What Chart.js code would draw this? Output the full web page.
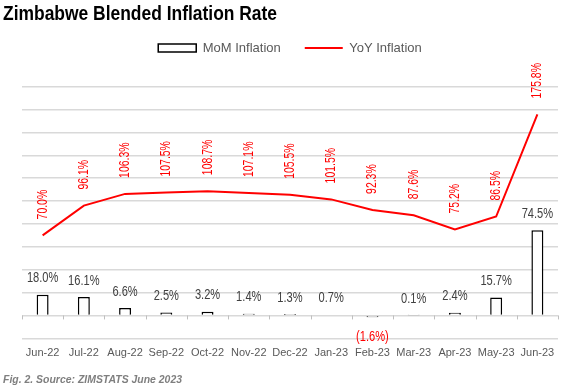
<!DOCTYPE html>
<html>
<head>
<meta charset="utf-8">
<script src="https://cdn.jsdelivr.net/npm/chart.js@4"></script>
<style>
  html, body { margin: 0; padding: 0; background: #fff; }
  #wrap { width: 571px; height: 387px; position: relative; font-family: 'Liberation Sans', Arial, sans-serif; }
  #title {
    position: absolute; left: 3px; top: 1px; white-space: nowrap;
    font-size: 21px; font-weight: bold; color: #000;
    transform: scaleX(0.83); transform-origin: left top;
  }
  #caption {
    position: absolute; left: 3px; top: 373px; white-space: nowrap;
    font-size: 11px; font-weight: bold; font-style: italic; color: #7f7f7f;
    transform: scaleX(0.95); transform-origin: left top;
  }
</style>
</head>
<body>
<div id="wrap">
  <canvas id="inflationChart"></canvas>
  <div id="title">Zimbabwe Blended Inflation Rate</div>
  <div id="caption">Fig. 2. Source: ZIMSTATS June 2023</div>
</div>
<script>
// Datos del gráfico
const months = ['Jun-22', 'Jul-22', 'Aug-22', 'Sep-22', 'Oct-22', 'Nov-22', 'Dec-22',
                'Jan-23', 'Feb-23', 'Mar-23', 'Apr-23', 'May-23', 'Jun-23'];
const momInflation = [18.0, 16.1, 6.6, 2.5, 3.2, 1.4, 1.3, 0.7, -1.6, 0.1, 2.4, 15.7, 74.5];
const yoyInflation = [70.0, 96.1, 106.3, 107.5, 108.7, 107.1, 105.5, 101.5, 92.3, 87.6, 75.2, 86.5, 175.8];
const gridValues = [-20, 0, 20, 40, 60, 80, 100, 120, 140, 160, 180, 200];

const FONT = "'Liberation Sans', Arial, sans-serif";

function pct(v) {
    return v < 0 ? '(' + Math.abs(v).toFixed(1) + '%)' : v.toFixed(1) + '%';
}

// Etiquetas de valores y marcas del eje en la línea cero
const valueLabels = {
    id: 'valueLabels',
    afterDatasetsDraw(chart) {
        const ctx = chart.ctx;
        const x = chart.scales.x;
        const y = chart.scales.y;
        const zero = y.getPixelForValue(0);

        // marcas del eje en cero
        ctx.save();
        ctx.strokeStyle = '#bfbfbf';
        ctx.lineWidth = 1;
        for (let i = 0; i <= months.length; i++) {
            const px = Math.round(x.getPixelForValue(i - 0.5)) + 0.5;
            ctx.beginPath();
            ctx.moveTo(px, zero);
            ctx.lineTo(px, zero + 4);
            ctx.stroke();
        }
        ctx.restore();

        // barras
        const bars = chart.getDatasetMeta(0).data;
        bars.forEach(function (bar, i) {
            const v = momInflation[i];
            ctx.save();
            ctx.font = '15px ' + FONT;
            ctx.textAlign = 'center';
            ctx.textBaseline = 'middle';
            if (v < 0) {
                ctx.fillStyle = '#ff0000';
                ctx.translate(bar.x, zero + 21);
            } else {
                ctx.fillStyle = '#404040';
                ctx.translate(bar.x, bar.y - 16.5);
            }
            ctx.scale(0.74, 1);
            ctx.fillText(pct(v), 0, 0);
            ctx.restore();
        });

        // línea (texto vertical)
        const pts = chart.getDatasetMeta(1).data;
        pts.forEach(function (p, i) {
            ctx.save();
            ctx.font = '14.5px ' + FONT;
            ctx.fillStyle = '#ff0000';
            ctx.textAlign = 'left';
            ctx.textBaseline = 'middle';
            ctx.translate(p.x, p.y - 16);
            ctx.rotate(-Math.PI / 2);
            ctx.scale(0.72, 1);
            ctx.fillText(pct(yoyInflation[i]), 0, 0);
            ctx.restore();
        });
    }
};

const ctx = document.getElementById('inflationChart').getContext('2d');
new Chart(ctx, {
    data: {
        labels: months,
        datasets: [{
            type: 'bar',
            label: 'MoM Inflation',
            data: momInflation,
            backgroundColor: '#ffffff',
            borderColor: '#000000',
            borderWidth: 1.5,
            barPercentage: 0.29,
            categoryPercentage: 1,
            pointStyle: 'rect'
        }, {
            type: 'line',
            label: 'YoY Inflation',
            data: yoyInflation,
            borderColor: '#ff0000',
            backgroundColor: '#ff0000',
            borderWidth: 2,
            pointRadius: 0,
            tension: 0,
            pointStyle: 'line'
        }]
    },
    options: {
        responsive: true,
        maintainAspectRatio: false,
        animation: false,
        layout: {
            padding: { left: 22, right: 13, top: 17.5, bottom: 19.5 }
        },
        scales: {
            x: {
                grid: { display: false, drawTicks: false },
                border: { display: false },
                ticks: {
                    color: '#595959',
                    font: { family: FONT, size: 11 },
                    padding: 8,
                    maxRotation: 0,
                    autoSkip: false
                }
            },
            y: {
                min: -20,
                max: 219.5,
                afterBuildTicks: function (scale) {
                    scale.ticks = gridValues.map(function (v) { return { value: v }; });
                },
                grid: { color: '#d9d9d9', lineWidth: 1.5, drawTicks: false },
                border: { display: false },
                ticks: { display: false }
            }
        },
        plugins: {
            legend: {
                position: 'top',
                labels: {
                    usePointStyle: true,
                    pointStyleWidth: 38,
                    boxHeight: 8,
                    color: '#595959',
                    font: { family: FONT, size: 13 },
                    padding: 24
                }
            },
            tooltip: { enabled: false }
        }
    },
    plugins: [valueLabels]
});
</script>
</body>
</html>
